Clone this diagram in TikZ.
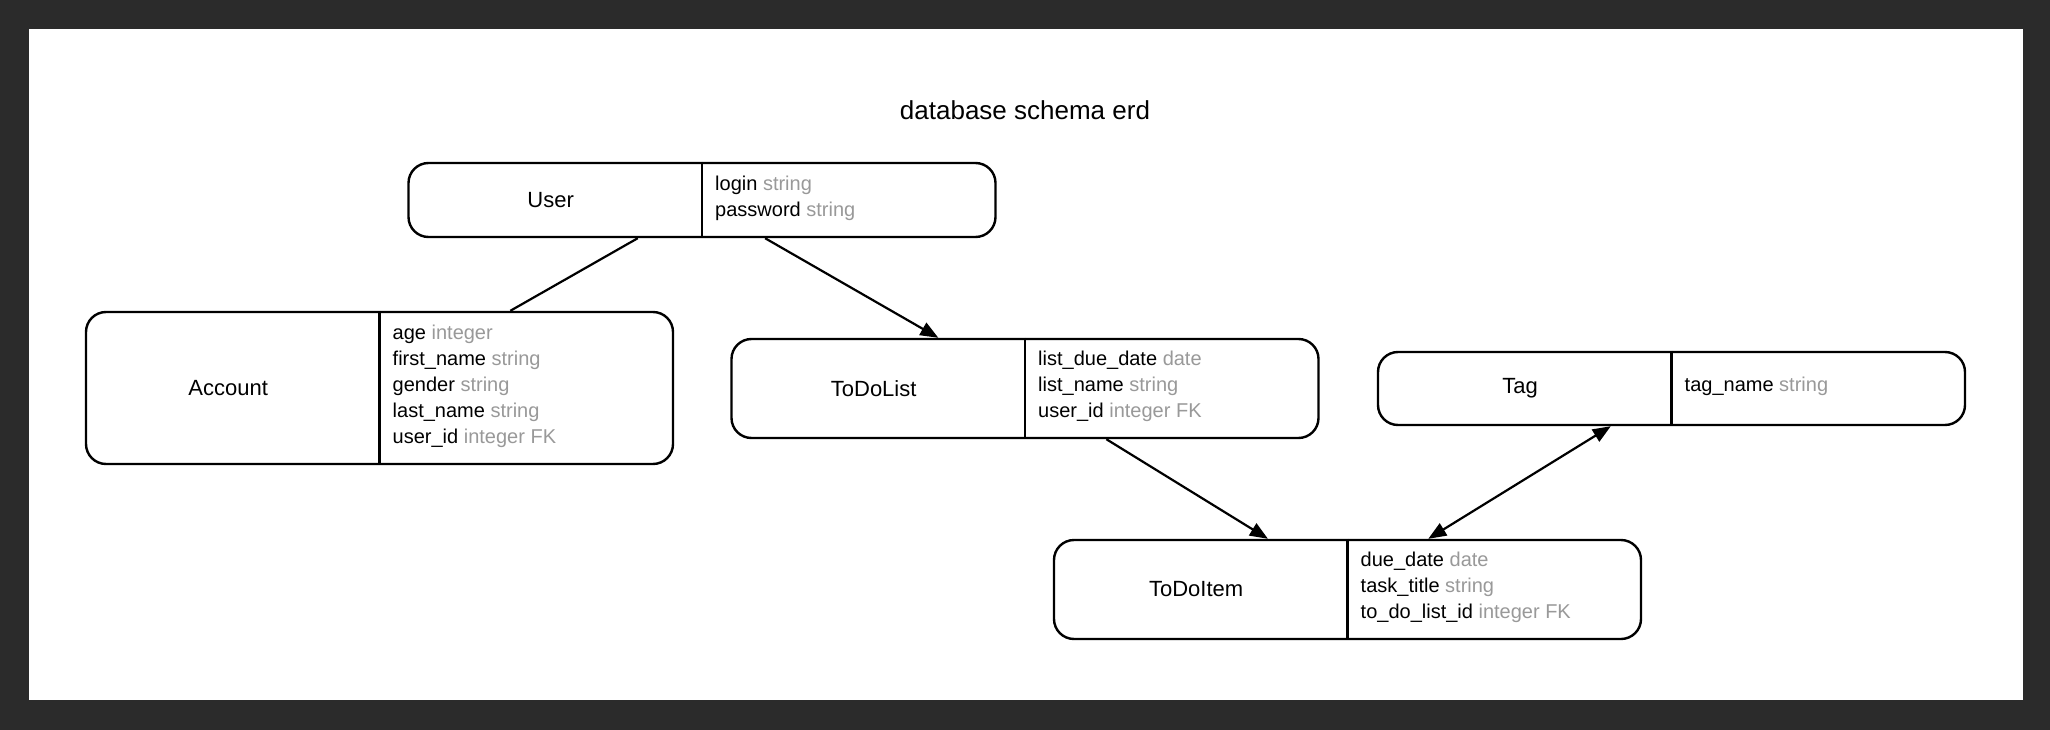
\documentclass[tikz,border=0pt]{standalone}
\usepackage{fontspec}
\setmainfont{Liberation Sans}
\usetikzlibrary{arrows.meta,calc}
\definecolor{bgdark}{HTML}{2B2B2B}
\definecolor{tgray}{HTML}{999999}
\newcommand\fld[2]{#1 \textcolor{tgray}{#2}}
\tikzset{
  ebox/.style={draw=black, line width=2.4pt, rounded corners=20pt, minimum width=587pt, inner sep=0pt, fill=white},
  ename/.style={font=\fontsize{22}{26}\selectfont, inner sep=0pt, xshift=-4pt},
  efields/.style={font=\fontsize{20}{26}\selectfont, align=left, anchor=west, inner sep=0pt, xshift=13pt, yshift=2pt},
  divider/.style={line width=2.4pt},
  conn/.style={line width=2.2pt},
  tip/.style={-{Triangle[length=18pt,width=14pt]}},
  tips/.style={{Triangle[length=18pt,width=14pt]}-{Triangle[length=18pt,width=14pt]}},
}
\begin{document}
\begin{tikzpicture}[x=1pt,y=-1pt]
\useasboundingbox (0,0) rectangle (2050,730);
\fill[bgdark] (0,0) rectangle (2050,730);
\fill[white] (29,29) rectangle (2023,700);

\node[font=\fontsize{26}{30}\selectfont, inner sep=0pt] (title) at (1025,110) {database schema erd};

% User
\node[ebox, minimum height=74pt] (user) at (702,200) {};
\draw[divider] (user.north) -- (user.south);
\node[ename] (userN) at ($(user.west)!0.5!(user.center)$) {User};
\node[efields] (userF) at (user.center) {\fld{login}{string}\\\fld{password}{string}};

% Account
\node[ebox, minimum height=152pt] (account) at (379.5,388) {};
\draw[divider] (account.north) -- (account.south);
\node[ename] (accountN) at ($(account.west)!0.5!(account.center)$) {Account};
\node[efields] (accountF) at (account.center) {\fld{age}{integer}\\\fld{first\_name}{string}\\\fld{gender}{string}\\\fld{last\_name}{string}\\\fld{user\_id}{integer FK}};

% ToDoList
\node[ebox, minimum height=99pt] (todolist) at (1025,388.5) {};
\draw[divider] (todolist.north) -- (todolist.south);
\node[ename] (todolistN) at ($(todolist.west)!0.5!(todolist.center)$) {ToDoList};
\node[efields] (todolistF) at (todolist.center) {\fld{list\_due\_date}{date}\\\fld{list\_name}{string}\\\fld{user\_id}{integer FK}};

% Tag
\node[ebox, minimum height=73pt] (tag) at (1671.5,388.5) {};
\draw[divider] (tag.north) -- (tag.south);
\node[ename] (tagN) at ($(tag.west)!0.5!(tag.center)$) {Tag};
\node[efields] (tagF) at (tag.center) {\fld{tag\_name}{string}};

% ToDoItem
\node[ebox, minimum height=99pt] (todoitem) at (1347.5,589.5) {};
\draw[divider] (todoitem.north) -- (todoitem.south);
\node[ename] (todoitemN) at ($(todoitem.west)!0.5!(todoitem.center)$) {ToDoItem};
\node[efields] (todoitemF) at (todoitem.center) {\fld{due\_date}{date}\\\fld{task\_title}{string}\\\fld{to\_do\_list\_id}{integer FK}};

% connectors
\draw[conn] ($(user.south west)!0.391!(user.south east)$) -- ($(account.north west)!0.722!(account.north east)$);
\draw[conn, tip] ($(user.south west)!0.607!(user.south east)$) -- ($(todolist.north west)!0.353!(todolist.north east)$);
\draw[conn, tip] ($(todolist.south west)!0.638!(todolist.south east)$) -- ($(todoitem.north west)!0.365!(todoitem.north east)$);
\draw[conn, tips] ($(tag.south west)!0.397!(tag.south east)$) -- ($(todoitem.north west)!0.637!(todoitem.north east)$);
\end{tikzpicture}
\end{document}
